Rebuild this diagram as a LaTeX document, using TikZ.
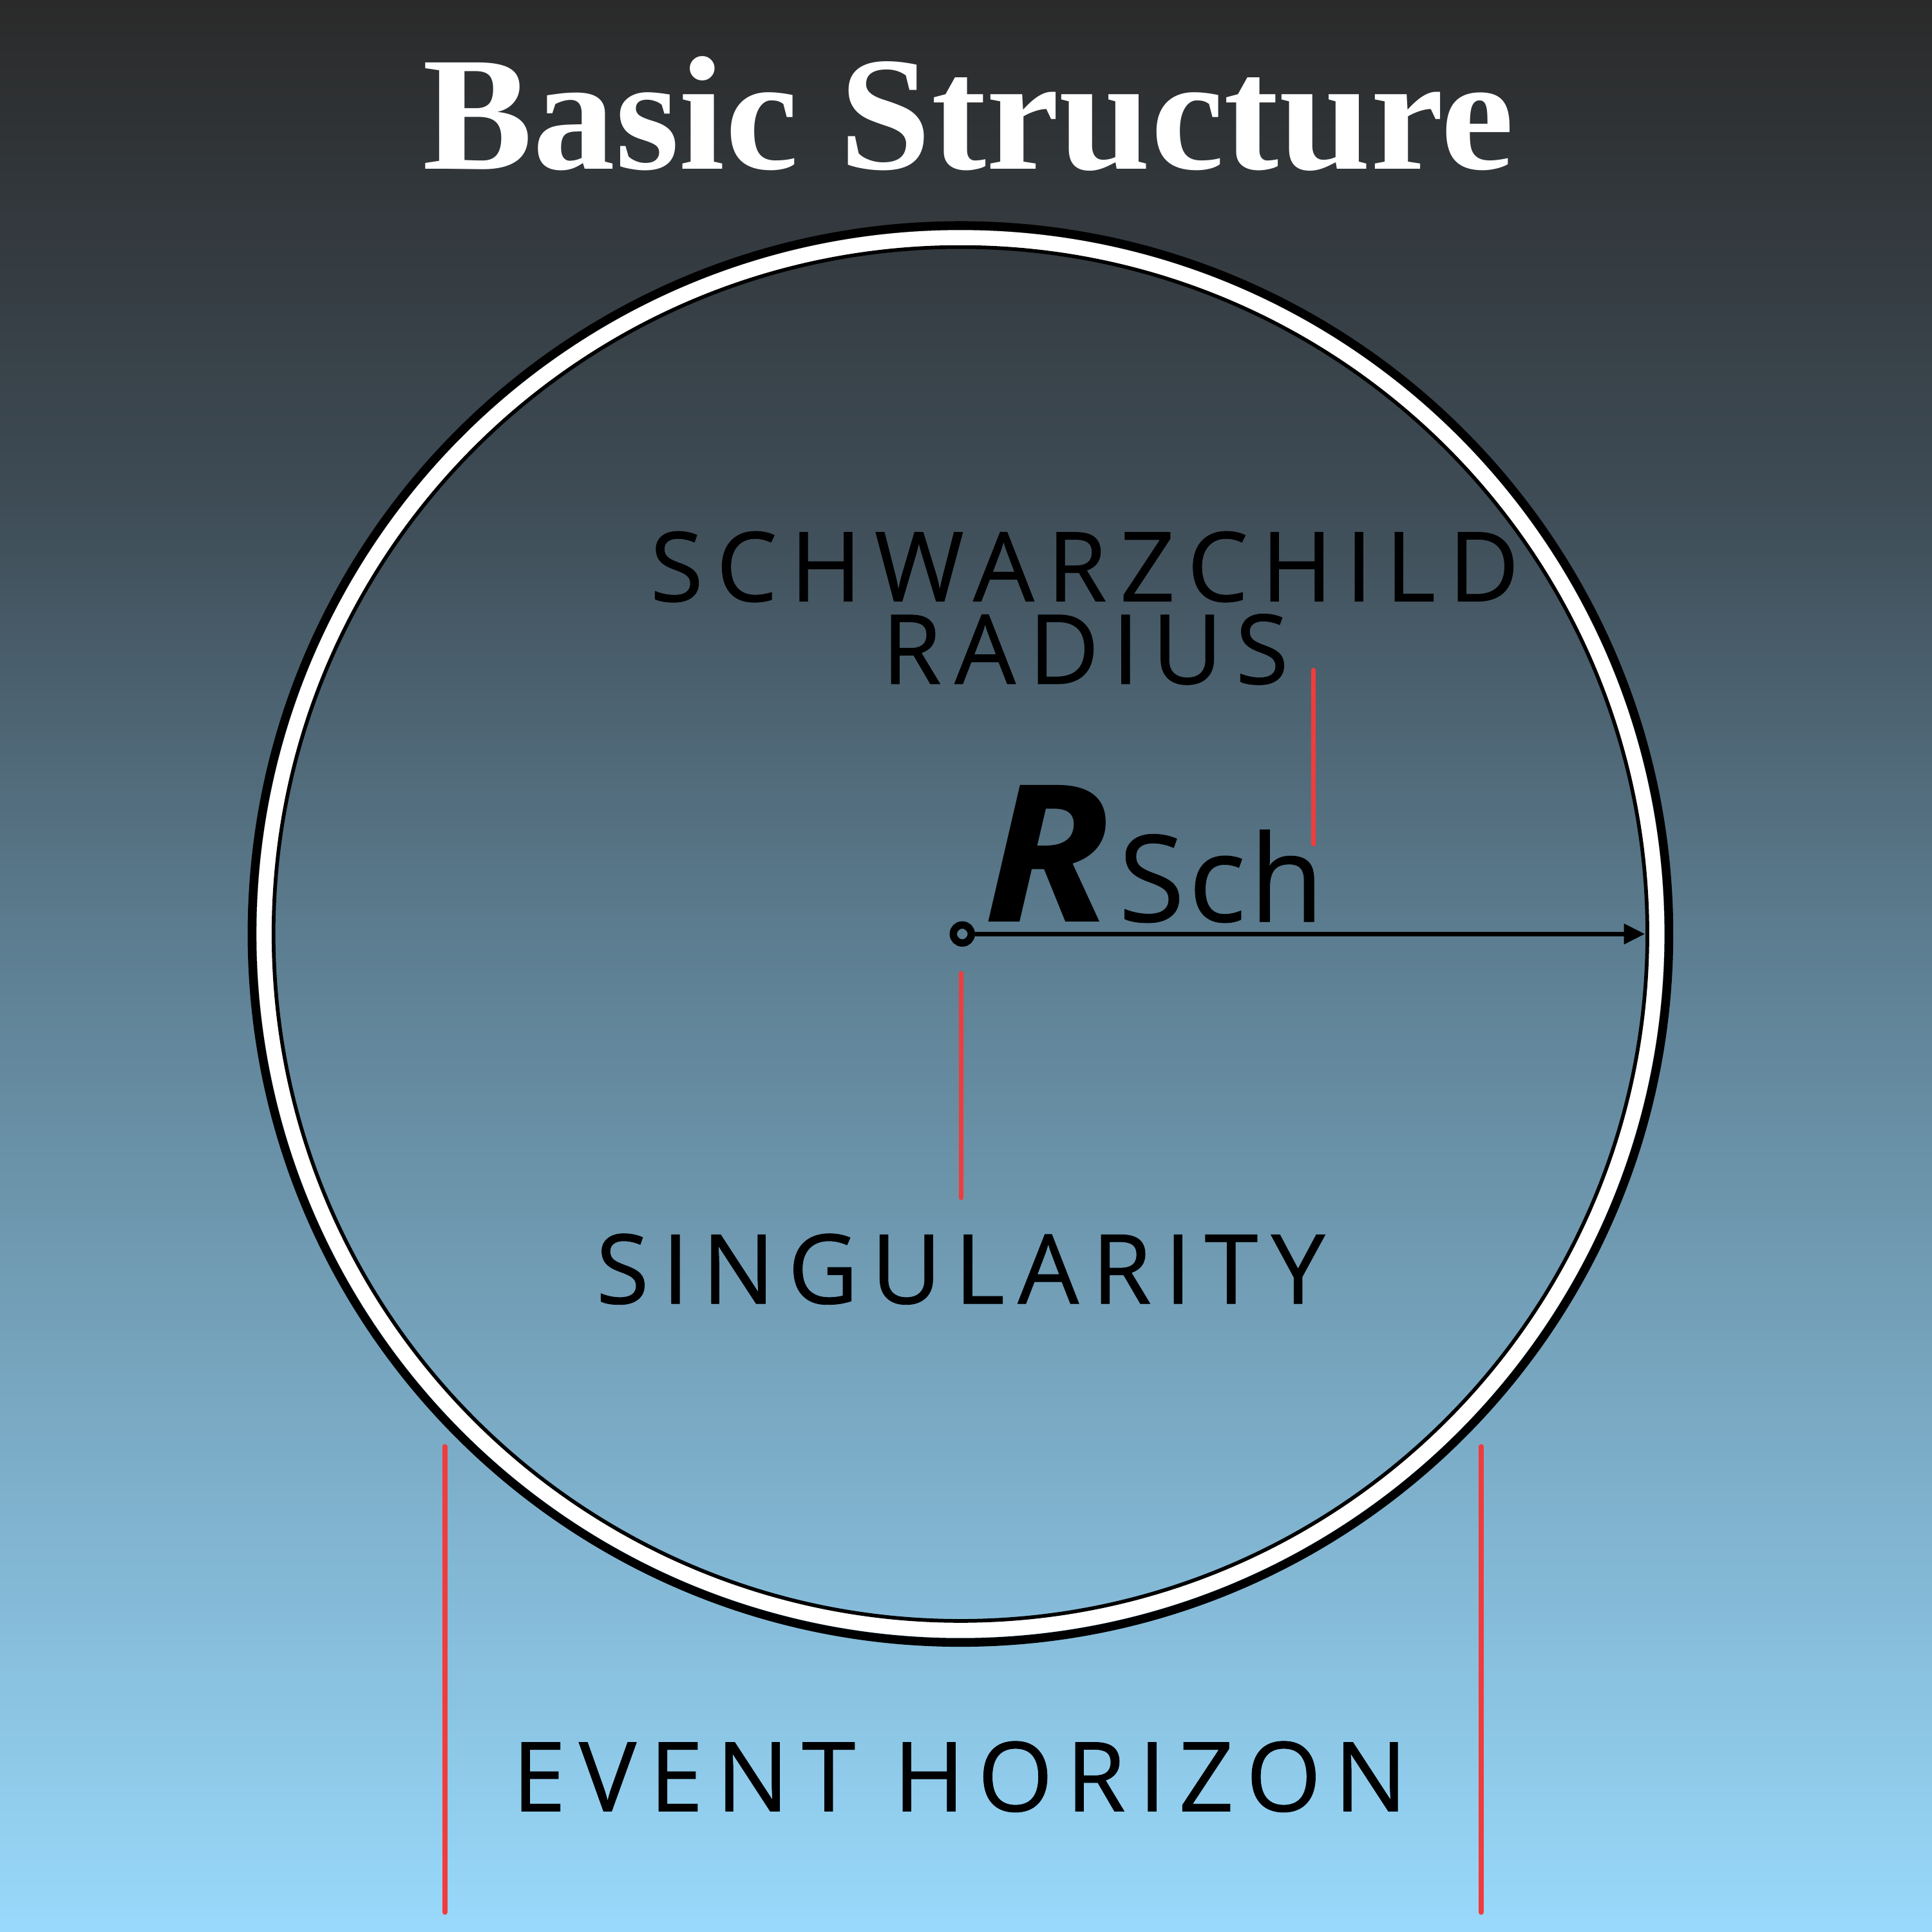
\documentclass[tikz,border=0pt]{standalone}
\usepackage{fontspec}
\usetikzlibrary{arrows.meta}
\newfontfamily\titlefont{Liberation Serif}
\newfontfamily\labelfont{Open Sans}[LetterSpace=13.5, FakeBold=0.6]
\newfontfamily\rsfont{Open Sans}
\newfontfamily\schfont{Open Sans}[LetterSpace=3, FakeBold=0.4]
\definecolor{bgtop}{HTML}{2A2A2A}
\definecolor{bgmid}{HTML}{3E4C56}
\definecolor{bgmid2}{HTML}{5C7D90}
\definecolor{bgbot}{HTML}{99D9FB}
\definecolor{leader}{HTML}{F03C3C}
\pgfdeclareverticalshading{bgshade}{100bp}{color(0bp)=(bgbot); color(25bp)=(bgbot); color(50.8bp)=(bgmid2); color(62bp)=(bgmid); color(75bp)=(bgtop); color(100bp)=(bgtop)}
\tikzset{
  lbl/.style={font=\labelfont\fontsize{22.3}{26}\selectfont, text=black, inner sep=0pt, anchor=base west},
  leaderline/.style={draw=leader, line width=0.4mm, line cap=round},
}
\begin{document}
\begin{tikzpicture}[x=0.1mm,y=-0.1mm]
\useasboundingbox (0,0) rectangle (1568,1568);
\fill[shading=bgshade] (0,0) rectangle (1568,1568);
% title
\node[font=\titlefont\bfseries\fontsize{37.5}{40}\selectfont, text=white, inner sep=0pt, anchor=base, xscale=1.015] (title) at (786,137) {Basic Structure};
% event horizon ring
\coordinate (c) at (779.5,758);
\draw[black, line width=0.7mm] (c) circle[radius=575];
\draw[white, line width=1.25mm] (c) circle[radius=565];
\draw[black, line width=0.3mm] (c) circle[radius=557.5];
% singularity dot
\node[circle, draw=black, line width=0.6mm, minimum size=1.46mm, inner sep=0pt] (dot) at (781,758) {};
\coordinate (rim) at (1335,758);
\draw[black, line width=0.35mm, -{Triangle[length=1.7mm,width=1.6mm]}] (dot.east) -- (rim);
% R_Sch
\node[font=\rsfont\bfseries\itshape\fontsize{44.2}{48}\selectfont, inner sep=0pt, anchor=base west, xscale=1.1] (R) at (797,748) {R};
\node[font=\schfont\fontsize{27.9}{30}\selectfont, inner sep=0pt, anchor=base west] (Sch) at (907,748) {Sch};
% labels
\node[lbl] (schw) at (527,488) {SCHWARZCHILD};
\node[lbl] (rad) at (715,555) {RADIUS};
\node[lbl] (sing) at (483,1058) {SINGULARITY};
\node[lbl] (eh) at (415,1470) {EVENT HORIZON};
% leader lines
\coordinate (a1) at (1066,544); \coordinate (a2) at (1066,685);
\coordinate (b1) at (780,790); \coordinate (b2) at (780,972);
\coordinate (l1) at (361,1174); \coordinate (l2) at (361,1552);
\coordinate (r1) at (1202,1174); \coordinate (r2) at (1202,1552);
\draw[leaderline] (a1) -- (a2);
\draw[leaderline] (b1) -- (b2);
\draw[leaderline] (l1) -- (l2);
\draw[leaderline] (r1) -- (r2);
\end{tikzpicture}
\end{document}
